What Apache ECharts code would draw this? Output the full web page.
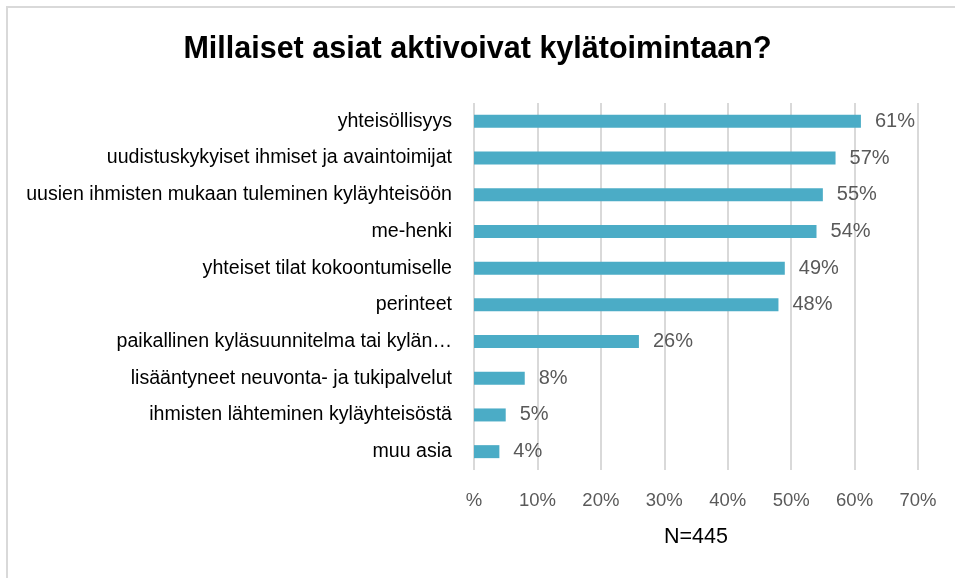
<!DOCTYPE html>
<html>
<head>
<meta charset="utf-8">
<script src="https://cdn.jsdelivr.net/npm/echarts@6/dist/echarts.min.js"></script>
<style>
  html, body { margin: 0; padding: 0; background: #fff; }
  #chart { width: 955px; height: 578px; }
</style>
</head>
<body>
<div id="chart"></div>
<script>
// data
const categories = [
    'yhteisöllisyys',
    'uudistuskykyiset ihmiset ja avaintoimijat',
    'uusien ihmisten mukaan tuleminen kyläyhteisöön',
    'me-henki',
    'yhteiset tilat kokoontumiselle',
    'perinteet',
    'paikallinen kyläsuunnitelma tai kylän…',
    'lisääntyneet neuvonta- ja tukipalvelut',
    'ihmisten lähteminen kyläyhteisöstä',
    'muu asia'
];
const values = [61, 57, 55, 54, 49, 48, 26, 8, 5, 4];
const tickLabels = ['%', '10%', '20%', '30%', '40%', '50%', '60%', '70%'];

const chart = echarts.init(document.getElementById('chart'));
const font = 'Liberation Sans, Arial, sans-serif';

chart.setOption({
    animation: false,
    textStyle: { fontFamily: font },
    title: {
        text: 'Millaiset asiat aktivoivat kylätoimintaan?',
        left: 'center',
        top: 29,
        textStyle: { fontSize: 30.5, fontWeight: 'bold', color: '#000', fontFamily: font }
    },
    graphic: [
        {
            type: 'rect',
            shape: { x: 7, y: 7, width: 1000, height: 620 },
            style: { fill: 'none', stroke: '#d9d9d9', lineWidth: 2 },
            silent: true
        },
        {
            type: 'text',
            x: 696,
            y: 537,
            style: {
                text: 'N=445', fontSize: 21.5, fill: '#000', fontFamily: font,
                align: 'center', verticalAlign: 'middle'
            }
        }
    ],
    grid: { left: 474, right: 37, top: 103, bottom: 108, containLabel: false },
    xAxis: {
        type: 'value',
        min: 0,
        max: 70,
        interval: 10,
        axisLine: { show: false },
        axisTick: { show: false },
        splitLine: { show: true, lineStyle: { color: '#d9d9d9', width: 2 } },
        axisLabel: {
            margin: 21,
            fontSize: 18.5,
            color: '#595959',
            formatter: v => tickLabels[Math.round(v / 10)]
        }
    },
    yAxis: {
        type: 'category',
        inverse: true,
        data: categories,
        axisLine: { show: false },
        axisTick: { show: false },
        axisLabel: { margin: 22, fontSize: 19.6, color: '#000' }
    },
    series: [{
        type: 'bar',
        data: values,
        barWidth: 13,
        itemStyle: { color: '#4bacc6' },
        label: {
            show: true,
            position: 'right',
            distance: 14,
            fontSize: 20,
            color: '#595959',
            formatter: p => p.value + '%'
        }
    }]
});
</script>
</body>
</html>
